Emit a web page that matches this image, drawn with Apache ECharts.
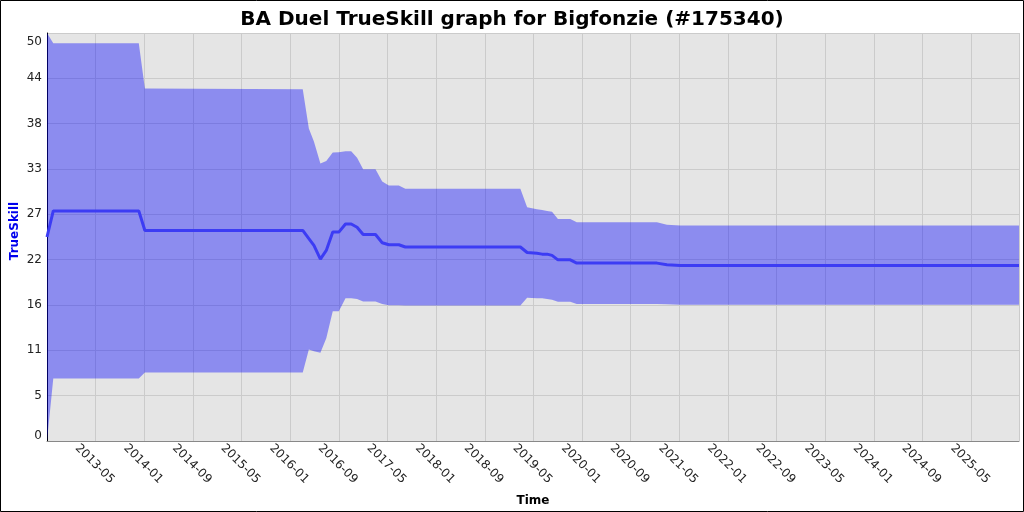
<!DOCTYPE html>
<html>
<head>
<meta charset="utf-8">
<script src="https://cdn.jsdelivr.net/npm/echarts@6/dist/echarts.min.js"></script>
<style>
html,body{margin:0;padding:0;background:#fff;}
#c{width:1024px;height:512px;}
</style>
</head>
<body>
<div id="c"></div>
<script>
// ---- data ----
const dates = ['2012-09-01','2012-10-02','2013-12-04','2014-01-04','2016-03-03','2016-04-03','2016-04-28','2016-05-31','2016-06-29','2016-08-01','2016-09-01','2016-10-04','2016-11-02','2016-12-01','2017-01-01','2017-03-02','2017-04-05','2017-05-08','2017-06-27','2017-07-30','2019-02-25','2019-03-31','2019-05-19','2019-06-14','2019-07-09','2019-08-03','2019-09-02','2019-11-03','2019-12-05','2021-01-11','2021-02-28','2021-05-06','2025-12-28'];
const mu    = [25.0, 28.2, 28.2, 25.8, 25.8, 24.8, 23.97, 22.3, 23.35, 25.6, 25.6, 26.6, 26.6, 26.2, 25.3, 25.3, 24.3, 24.05, 24.05, 23.77, 23.77, 23.1, 23.0, 22.9, 22.9, 22.75, 22.2, 22.2, 21.8, 21.8, 21.6, 21.5, 21.5];
const lower = [0.0, 7.65, 7.65, 8.4, 8.4, 11.2, 11.0, 10.8, 12.6, 15.9, 15.9, 17.5, 17.5, 17.4, 17.1, 17.1, 16.8, 16.65, 16.65, 16.6, 16.6, 17.55, 17.5, 17.5, 17.4, 17.3, 17.05, 17.05, 16.8, 16.8, 16.75, 16.7, 16.7];
const upper = [50.0, 48.74, 48.74, 43.2, 43.1, 38.3, 36.7, 34.0, 34.3, 35.35, 35.4, 35.5, 35.5, 34.7, 33.3, 33.3, 31.8, 31.3, 31.3, 30.9, 30.9, 28.65, 28.4, 28.3, 28.2, 28.1, 27.2, 27.2, 26.8, 26.8, 26.5, 26.4, 26.4];
const title = 'BA Duel TrueSkill graph for Bigfonzie (#175340)';
const yName = 'TrueSkill';
const xName = 'Time';

// months relative to 2013-05
function monthIndex(s){
  const p = s.split('-').map(Number);
  const dim = new Date(Date.UTC(p[0], p[1], 0)).getUTCDate();
  return (p[0]-2013)*12 + (p[1]-5) + (p[2]-1)/dim;
}
function monthLabel(v){
  const total = 2013*12 + 4 + Math.round(v);
  const y = Math.floor(total/12), m = total % 12 + 1;
  return y + '-' + String(m).padStart(2,'0');
}
const xs = dates.map(monthIndex);

const chart = echarts.init(document.getElementById('c'), null, {renderer:'canvas'});
const font = 'DejaVu Sans';
chart.setOption({
  animation:false,
  backgroundColor:'#fff',
  title:{text:title,left:'center',top:5,textStyle:{fontFamily:font,fontSize:20,fontWeight:'bold',color:'#000'}},
  grid:{left:47,top:33,width:972,height:408,show:true,backgroundColor:'#e5e5e5',borderWidth:0,containLabel:false,outerBoundsMode:'none'},
  xAxis:{
    type:'value',min:xs[0],max:xs[xs.length-1],interval:8,
    name:xName,nameLocation:'middle',nameGap:54,
    nameTextStyle:{fontFamily:font,fontSize:12,fontWeight:'bold',color:'#000'},
    axisLine:{show:true,onZero:false,lineStyle:{color:'#888',width:1}},
    axisTick:{show:false},
    splitLine:{show:true,lineStyle:{color:'#cbcbcb',width:1}},
    axisLabel:{showMinLabel:false,showMaxLabel:false,rotate:-45,align:'center',verticalAlign:'middle',margin:24,
      padding:[17,3,0,0],fontFamily:font,fontSize:12,color:'#222',formatter:monthLabel}
  },
  yAxis:{
    type:'value',min:0,max:50,interval:50/9,
    name:yName,nameLocation:'middle',nameGap:26,nameMoveOverlap:false,
    nameTextStyle:{fontFamily:font,fontSize:12,fontWeight:'bold',color:'#0000ee',padding:[0,0,0,12]},
    axisLine:{show:true,onZero:false,lineStyle:{color:'#000',width:1}},
    axisTick:{show:false},
    splitLine:{show:true,lineStyle:{color:'#cbcbcb',width:1}},
    axisLabel:{margin:5,fontFamily:font,fontSize:12,color:'#222',
      formatter:function(v){
        const t = String(Math.floor(v+1e-6));
        if (v > 49.9) return '{t|'+t+'}';
        if (v < 0.1) return '{b|'+t+'}';
        return t;
      },
      rich:{
        t:{fontFamily:font,fontSize:12,color:'#222',padding:[17,0,0,0]},
        b:{fontFamily:font,fontSize:12,color:'#222',padding:[0,0,11,0]}
      }
    }
  },
  series:[
    {type:'custom',silent:true,z:1,
      data:[[xs[0],0]],
      renderItem:function(params, api){
        const pts = [];
        for (let i=0;i<xs.length;i++) pts.push(api.coord([xs[i], upper[i]]));
        for (let i=xs.length-1;i>=0;i--) pts.push(api.coord([xs[i], lower[i]]));
        return {type:'polygon',shape:{points:pts},style:{fill:'rgba(0,0,255,0.39)',stroke:null}};
      }
    },
    {type:'line',symbol:'none',silent:true,z:3,lineStyle:{color:'#3c3cf4',width:3},
      data:xs.map((x,i)=>[x,mu[i]])}
  ],
  graphic:[{type:'rect',shape:{x:0.5,y:0.5,width:1023,height:511},style:{fill:'none',stroke:'#000',lineWidth:1},z:100}]
});
</script>
</body>
</html>
